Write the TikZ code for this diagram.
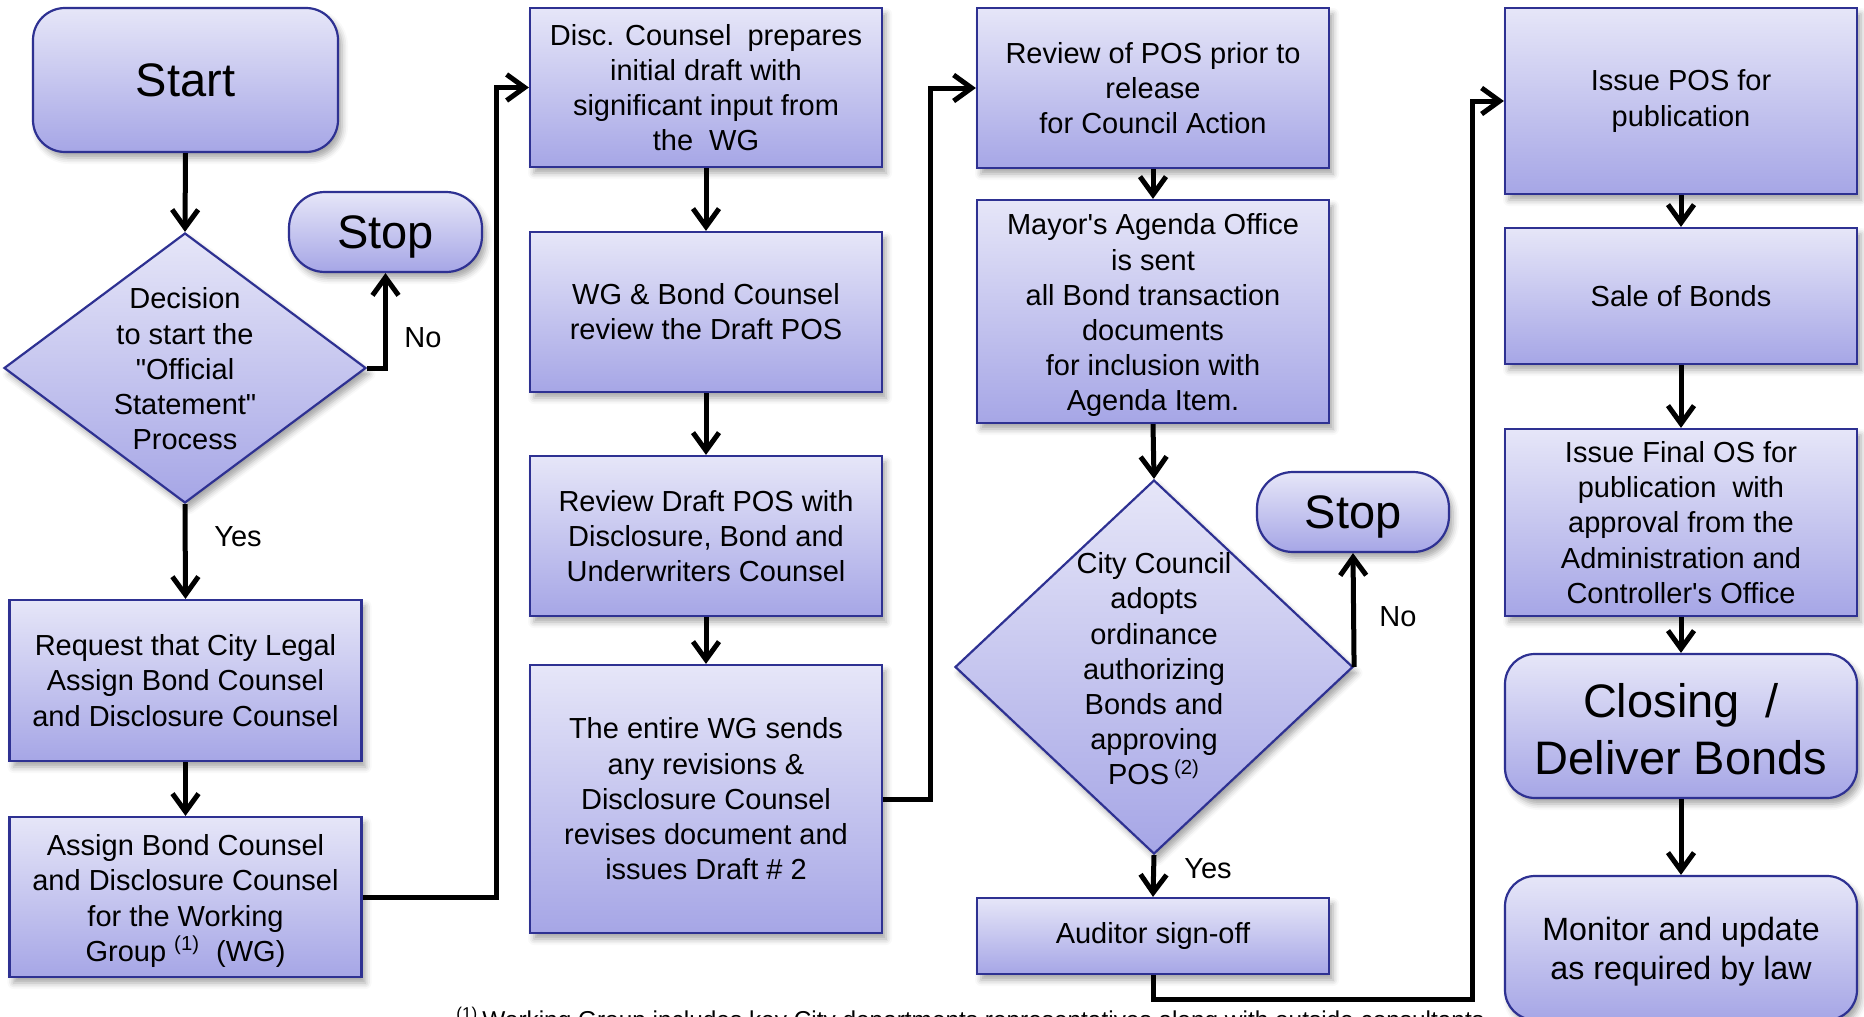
\documentclass[tikz,border=0pt]{standalone}
\usepackage{fontspec}
\setmainfont{Liberation Sans}
\usetikzlibrary{shapes.geometric,arrows.meta,shadows.blur}
\definecolor{bordc}{HTML}{2E3192}
\definecolor{topc}{HTML}{E6E6F8}
\definecolor{botc}{HTML}{A6A6E6}
\newcommand{\pushdown}[1]{\rule{0pt}{#1}}
\tikzset{
  wh/.style 2 args={minimum width=#1*0.5pt, minimum height=#2*0.5pt},
  base/.style={draw=bordc, line width=1.1pt, top color=topc, bottom color=botc,
    blur shadow={shadow xshift=2pt, shadow yshift=-3pt, shadow blur radius=3pt, shadow opacity=35},
    inner sep=0pt, align=center},
  procbox/.style={base, rectangle, font=\fontsize{14.5}{17.6}\selectfont},
  termbox/.style={base, rectangle, rounded corners=16pt, font=\fontsize{23.5}{28.5}\selectfont},
  pillbox/.style={base, rectangle, rounded corners=18pt, text depth=0pt, font=\fontsize{23.5}{28.5}\selectfont},
  softbox/.style={base, rectangle, rounded corners=15pt, font=\fontsize{16.1}{19.4}\selectfont},
  decbox/.style={base, diamond},
  dtext/.style={align=center, inner sep=0pt, font=\fontsize{14.5}{17.6}\selectfont},
  lbl/.style={inner sep=0pt, font=\fontsize{14.5}{17.6}\selectfont},
  conn/.style={draw=black, line width=2.5pt, -{Straight Barb[length=9pt,width=13pt]}},
}
\begin{document}
\begin{tikzpicture}[x=0.5pt,y=-0.5pt]
\useasboundingbox (0,0) rectangle (1864,1017);

% column 1
\node[termbox, wh={305}{144}] (start) at (185.5,80) {Start};
\node[decbox, wh={362}{270}] (d1) at (185,368) {};
\node[dtext] (d1t) at (185,369) {Decision\\to start the\\\textquotedbl Official\\Statement\textquotedbl\\Process};
\node[pillbox, wh={193}{80}] (stop1) at (385.5,232) {Stop};
\node[procbox, wh={352}{161}] (req) at (185.5,680.5) {Request that City Legal\\Assign Bond Counsel\\and Disclosure Counsel};
\node[procbox, wh={352}{160}] (assign) at (185.5,897) {\pushdown{14.5pt}Assign Bond Counsel\\and Disclosure Counsel\\for the Working\\Group \textsuperscript{(1)}\ \ (WG)};

% column 2
\node[procbox, wh={352}{159}] (disc) at (706,87.5) {Disc. Counsel\ \ prepares\\initial draft with\\significant input from\\the\ \ WG};
\node[procbox, wh={352}{160}] (wgb) at (706,312) {WG \& Bond Counsel\\review the Draft POS};
\node[procbox, wh={352}{160}] (rdp) at (706,536) {Review Draft POS with\\Disclosure, Bond and\\Underwriters Counsel};
\node[procbox, wh={352}{268}] (entire) at (706,799) {The entire WG sends\\any revisions \&\\Disclosure Counsel\\revises document and\\issues Draft \# 2};

% column 3
\node[procbox, wh={352}{160}] (rpos) at (1153,88) {Review of POS prior to\\release\\for Council Action};
\node[procbox, wh={352}{223}] (mayor) at (1153,311.5) {\pushdown{14.5pt}Mayor\textquotesingle s Agenda Office\\is sent\\all Bond transaction\\documents\\for inclusion with\\Agenda Item.};
\node[decbox, wh={398}{374}] (d2) at (1154,667) {};
\node[dtext] (d2t) at (1154,669) {City Council\\adopts\\ordinance\\authorizing\\Bonds and\\approving\\POS\,\textsuperscript{(2)}};
\node[pillbox, wh={192}{80}] (stop2) at (1353,512) {Stop};
\node[procbox, wh={352}{76}] (aud) at (1153,936) {Auditor sign-off};

% column 4
\node[procbox, wh={352}{186}] (ipos) at (1681,101) {Issue POS for\\publication};
\node[procbox, wh={352}{136}] (sale) at (1681,296) {Sale of Bonds};
\node[procbox, wh={352}{187}] (ifin) at (1681,522.5) {Issue Final OS for\\publication\ \ with\\approval from the\\Administration and\\Controller\textquotesingle s Office};
\node[termbox, rounded corners=15pt, wh={352}{144}] (close) at (1681,726) {\pushdown{20pt}Closing\ \ /\\Deliver Bonds};
\node[softbox, wh={352}{144}] (mon) at (1681,948) {\pushdown{15pt}Monitor and update\\as required by law};

% labels
\node[lbl] (no1) at (423,338) {No};
\node[lbl] (yes1) at (238,537) {Yes};
\node[lbl] (no2) at (1398,617) {No};
\node[lbl] (yes2) at (1208,869) {Yes};

% footnote (cut by the lower edge, as in the reference)
\node[inner sep=0pt, anchor=base west, font=\fontsize{12.2}{14}\selectfont] (fn) at (456,1028) {\textsuperscript{(1)}\,Working Group includes key City departments representatives along with outside consultants};

% connector bends
\coordinate (c1) at (496,87.5);
\coordinate (c2) at (930,88);
\coordinate (c3) at (1472,999);
\coordinate (c4) at (1472,101);

% connectors
\draw[conn] (start.south) -- (d1.north);
\draw[conn] (d1.east) -| (stop1.south);
\draw[conn] (d1.south) -- (req.north);
\draw[conn] (req.south) -- (assign.north);
\draw[conn] (assign.east) -| (c1) -- (disc.west);
\draw[conn] (disc.south) -- (wgb.north);
\draw[conn] (wgb.south) -- (rdp.north);
\draw[conn] (rdp.south) -- (entire.north);
\draw[conn] (entire.east) -| (c2) -- (rpos.west);
\draw[conn] (rpos.south) -- (mayor.north);
\draw[conn] (mayor.south) -- (d2.north);
\draw[conn] (d2.east) -- (stop2.south);
\draw[conn] (d2.south) -- (aud.north);
\draw[conn] (aud.south) |- (c3) -- (c4) -- (ipos.west);
\draw[conn] (ipos.south) -- (sale.north);
\draw[conn] (sale.south) -- (ifin.north);
\draw[conn] (ifin.south) -- (close.north);
\draw[conn] (close.south) -- (mon.north);
\end{tikzpicture}
\end{document}
